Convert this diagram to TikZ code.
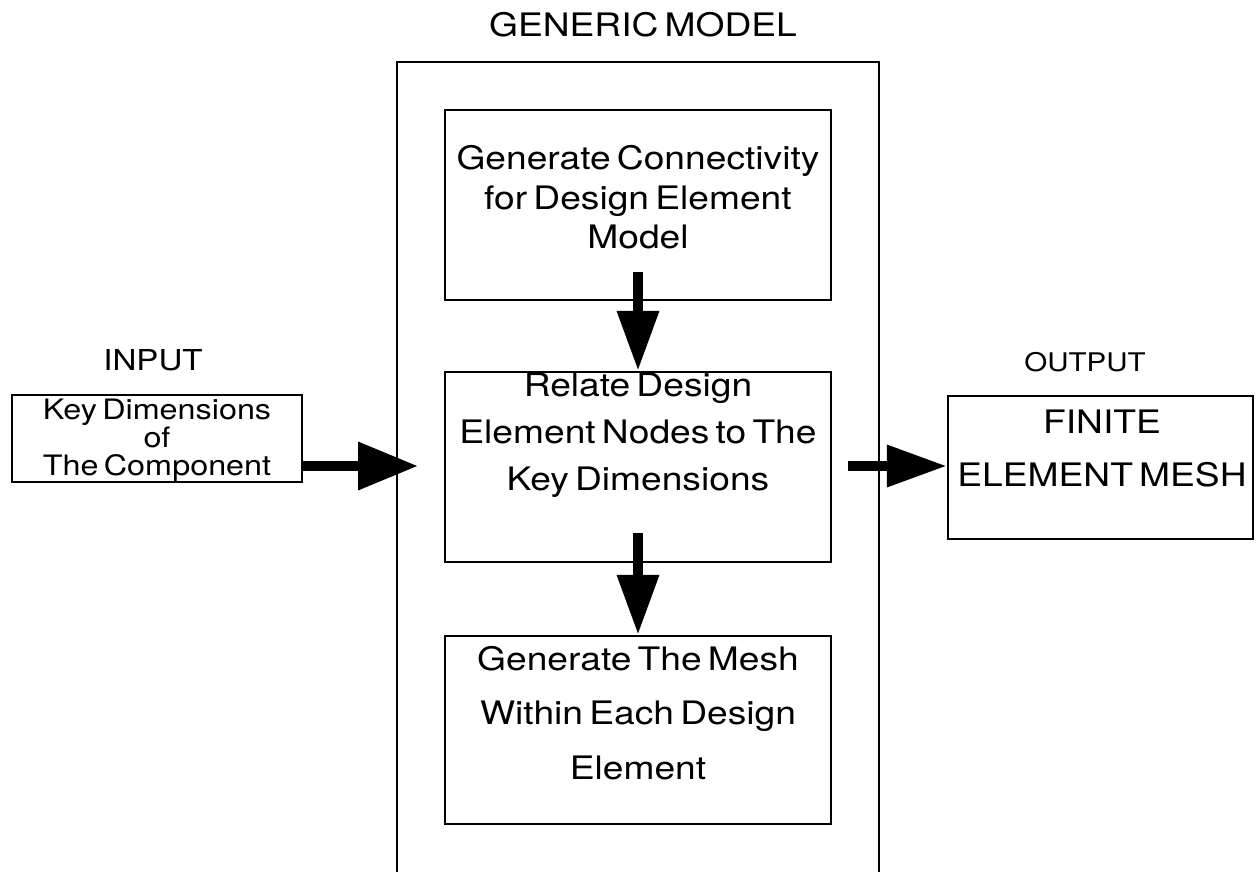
\documentclass[tikz,border=0pt]{standalone}
\usepackage{fontspec}
\setmainfont{TeX Gyre Heros}[FakeStretch=1.15, WordSpace=0.6]
\usetikzlibrary{arrows.meta}

\begin{document}
\begin{tikzpicture}[
    box/.style={draw, line width=0.7pt, inner sep=0pt},
    txt/.style={align=center, inner sep=0pt},
    bigarrow/.style={line width=0.1cm, -{Triangle[length=0.6cm, width=0.4cm]}}
]
    % one unit = 100 px of the original drawing
    \useasboundingbox (0,0) rectangle (12.56,-8.72);

    % Generic model frame
    \node[txt, font=\fontsize{9.2pt}{10pt}\selectfont] (title) at (6.43,-0.25) {GENERIC MODEL};
    \draw[line width=0.7pt] (3.97,-8.72) -- (3.97,-0.62) -- (8.79,-0.62) -- (8.79,-8.72);

    % Steps inside the model
    \node[box, minimum width=3.86cm, minimum height=1.90cm] (genbox) at (6.38,-2.05) {};
    \node[txt, font=\fontsize{9.2pt}{11.2pt}\selectfont] (gentxt) at (6.38,-1.975)
        {Generate Connectivity\\for Design Element\\Model};

    \node[box, minimum width=3.86cm, minimum height=1.90cm] (relbox) at (6.38,-4.67) {};
    \node[txt, font=\fontsize{9.2pt}{13.4pt}\selectfont] (reltxt) at (6.38,-4.35)
        {Relate Design\\Element Nodes to The\\Key Dimensions};

    \node[box, minimum width=3.86cm, minimum height=1.88cm] (meshbox) at (6.38,-7.30) {};
    \node[txt, font=\fontsize{9.2pt}{15.6pt}\selectfont] (meshtxt) at (6.38,-7.13)
        {Generate The Mesh\\Within Each Design\\Element};

    % Input side
    \node[txt, font=\fontsize{8.2pt}{10pt}\selectfont] (inlabel) at (1.53,-3.60) {INPUT};
    \node[box, minimum width=2.90cm, minimum height=0.87cm] (inbox) at (1.57,-4.385) {};
    \node[txt, font=\fontsize{8pt}{8pt}\selectfont] (intxt) at (1.57,-4.40)
        {Key Dimensions\\of\\The Component};

    % Output side
    \node[txt, font=\fontsize{7.3pt}{9pt}\selectfont] (outlabel) at (10.85,-3.62) {OUTPUT};
    \node[box, minimum width=3.05cm, minimum height=1.43cm] (outbox) at (11.005,-4.675) {};
    \node[txt, font=\fontsize{9.2pt}{15.1pt}\selectfont] (outtxt) at (11.02,-4.485)
        {FINITE\\ELEMENT MESH};

    % Arrows
    \coordinate (intip) at (4.18,-4.66);
    \coordinate (outtail) at (8.48,-4.66);
    \coordinate (gentail) at (6.38,-2.72);
    \coordinate (reltail) at (6.38,-5.33);

    \draw[bigarrow, -{Triangle[length=0.6cm, width=0.46cm]}] (inbox.east |- intip) -- (intip);
    \draw[bigarrow] (outtail) -- (outbox.west |- outtail);
    \draw[bigarrow] (gentail) -- (relbox.north);
    \draw[bigarrow] (reltail) -- (meshbox.north);
\end{tikzpicture}
\end{document}
